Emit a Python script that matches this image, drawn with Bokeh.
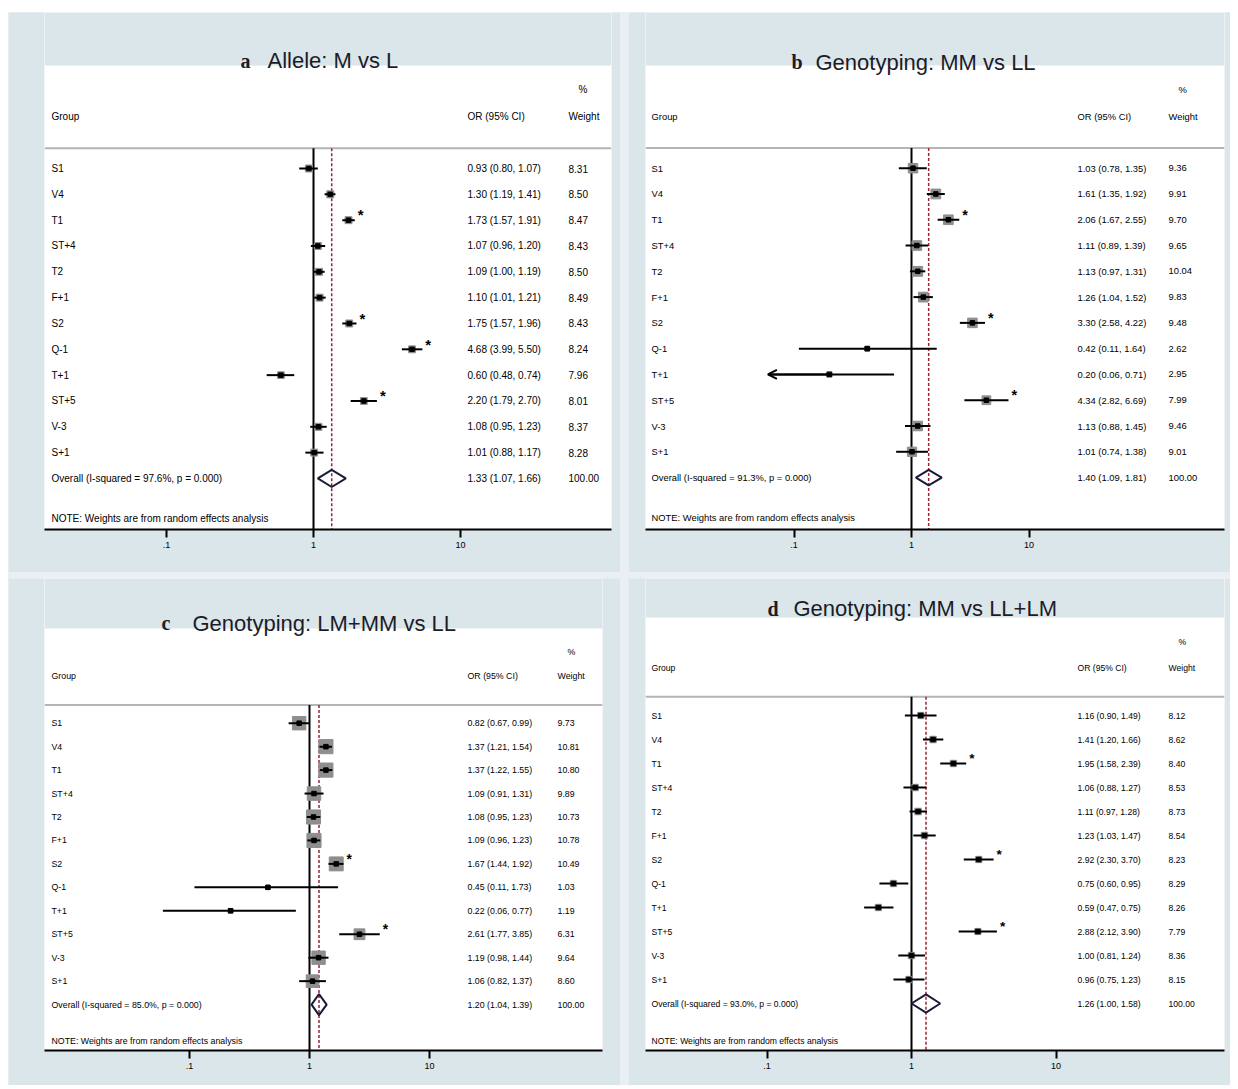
import math
from bokeh.plotting import figure
from bokeh.models import (Range1d, FixedTicker, ColumnDataSource, Arrow,
                          OpenHead, Span, BoxAnnotation)
from bokeh.layouts import column, row
from bokeh.embed import file_html
from bokeh.resources import INLINE
from bokeh.core.properties import value

# ---------------- data ----------------
groups = ["S1", "V4", "T1", "ST+4", "T2", "F+1", "S2", "Q-1", "T+1", "ST+5", "V-3", "S+1"]

a_or = [0.93, 1.30, 1.73, 1.07, 1.09, 1.10, 1.75, 4.68, 0.60, 2.20, 1.08, 1.01]
a_lo = [0.80, 1.19, 1.57, 0.96, 1.00, 1.01, 1.57, 3.99, 0.48, 1.79, 0.95, 0.88]
a_hi = [1.07, 1.41, 1.91, 1.20, 1.19, 1.21, 1.96, 5.50, 0.74, 2.70, 1.23, 1.17]
a_wt = [8.31, 8.50, 8.47, 8.43, 8.50, 8.49, 8.43, 8.24, 7.96, 8.01, 8.37, 8.28]
a_overall = [1.33, 1.07, 1.66]
a_i2 = 97.6
a_star = ["T1", "S2", "Q-1", "ST+5"]
a_arrow = []

b_or = [1.03, 1.61, 2.06, 1.11, 1.13, 1.26, 3.30, 0.42, 0.20, 4.34, 1.13, 1.01]
b_lo = [0.78, 1.35, 1.67, 0.89, 0.97, 1.04, 2.58, 0.11, 0.06, 2.82, 0.88, 0.74]
b_hi = [1.35, 1.92, 2.55, 1.39, 1.31, 1.52, 4.22, 1.64, 0.71, 6.69, 1.45, 1.38]
b_wt = [9.36, 9.91, 9.70, 9.65, 10.04, 9.83, 9.48, 2.62, 2.95, 7.99, 9.46, 9.01]
b_overall = [1.40, 1.09, 1.81]
b_i2 = 91.3
b_star = ["T1", "S2", "ST+5"]
b_arrow = ["T+1"]

c_or = [0.82, 1.37, 1.37, 1.09, 1.08, 1.09, 1.67, 0.45, 0.22, 2.61, 1.19, 1.06]
c_lo = [0.67, 1.21, 1.22, 0.91, 0.95, 0.96, 1.44, 0.11, 0.06, 1.77, 0.98, 0.82]
c_hi = [0.99, 1.54, 1.55, 1.31, 1.23, 1.23, 1.92, 1.73, 0.77, 3.85, 1.44, 1.37]
c_wt = [9.73, 10.81, 10.80, 9.89, 10.73, 10.78, 10.49, 1.03, 1.19, 6.31, 9.64, 8.60]
c_overall = [1.20, 1.04, 1.39]
c_i2 = 85.0
c_star = ["S2", "ST+5"]
c_arrow = []

d_or = [1.16, 1.41, 1.95, 1.06, 1.11, 1.23, 2.92, 0.75, 0.59, 2.88, 1.00, 0.96]
d_lo = [0.90, 1.20, 1.58, 0.88, 0.97, 1.03, 2.30, 0.60, 0.47, 2.12, 0.81, 0.75]
d_hi = [1.49, 1.66, 2.39, 1.27, 1.28, 1.47, 3.70, 0.95, 0.75, 3.90, 1.24, 1.23]
d_wt = [8.12, 8.62, 8.40, 8.53, 8.73, 8.54, 8.23, 8.29, 8.26, 7.79, 8.36, 8.15]
d_overall = [1.26, 1.00, 1.58]
d_i2 = 93.0
d_star = ["T1", "S2", "ST+5"]
d_arrow = []

letters = ["a", "b", "c", "d"]
titles = ["Allele: M vs L", "Genotyping: MM vs LL",
          "Genotyping: LM+MM vs LL", "Genotyping: MM vs LL+LM"]

tick_values = [0.1, 1, 10]
tick_labels = [".1", "1", "10"]

header_group = "Group"
header_or = "OR (95% CI)"
header_pct = "%"
header_wt = "Weight"
note_text = "NOTE: Weights are from random effects analysis"

# ---------------- layout / style ----------------
FONT = "Liberation Sans"
BG = "#dbe6eb"

specs = [
    dict(fx=8, fy=12, w=612, h=560, L=44, R=611, T=65, B=529, x1=313, ppd=147.0,
         s1=168, pitch=25.83, gx=51, ox=467, wx=568, fs=10.0, lx=240, tx=267, ty=60,
         k=2.4, dh=0.33),
    dict(fx=628, fy=12, w=602, h=560, L=645, R=1224, T=65, B=530, x1=911, ppd=117.5,
         s1=168, pitch=25.83, gx=651, ox=1077, wx=1168, fs=9.4, lx=791, tx=815, ty=62,
         k=3.1, dh=0.30),
    dict(fx=8, fy=578, w=612, h=507, L=44, R=602, T=628, B=1051, x1=309, ppd=120.0,
         s1=723, pitch=23.5, gx=51, ox=467, wx=557, fs=8.8, lx=161, tx=192, ty=623,
         k=4.3, dh=0.45),
    dict(fx=628, fy=578, w=602, h=507, L=645, R=1224, T=617, B=1050, x1=911, ppd=144.5,
         s1=715, pitch=24.0, gx=651, ox=1077, wx=1168, fs=8.6, lx=767, tx=793, ty=608,
         k=2.2, dh=0.38),
]

datasets = [
    (a_or, a_lo, a_hi, a_wt, a_overall, a_i2, a_star, a_arrow),
    (b_or, b_lo, b_hi, b_wt, b_overall, b_i2, b_star, b_arrow),
    (c_or, c_lo, c_hi, c_wt, c_overall, c_i2, c_star, c_arrow),
    (d_or, d_lo, d_hi, d_wt, d_overall, d_i2, d_star, d_arrow),
]


def make_panel(spec, data, letter, title):
    ors, los, his, wts, overall, i2, stars, arrows = data
    X = lambda px: 10 ** ((px - spec["x1"]) / spec["ppd"])
    Y = lambda px: 1 + (px - spec["s1"]) / spec["pitch"]

    # frame reaches the top of the figure; the title band is painted inside it
    p = figure(width=spec["w"], height=spec["h"], x_axis_type="log",
               x_range=Range1d(X(spec["L"]), X(spec["R"])),
               y_range=Range1d(Y(spec["B"]), Y(spec["fy"])),
               min_border_left=spec["L"] - spec["fx"],
               min_border_right=spec["fx"] + spec["w"] - spec["R"],
               min_border_top=0,
               min_border_bottom=spec["fy"] + spec["h"] - spec["B"],
               y_axis_location=None, toolbar_location=None, output_backend="svg",
               background_fill_color="white", border_fill_color=BG,
               outline_line_color=None)
    p.xgrid.visible = False
    p.ygrid.visible = False

    p.add_layout(BoxAnnotation(left=X(spec["L"]), right=X(spec["R"]),
                               top=Y(spec["fy"]), bottom=Y(spec["T"]),
                               fill_color=BG, fill_alpha=1.0, line_color=None,
                               level="underlay"))

    ax = p.xaxis[0]
    ax.ticker = FixedTicker(ticks=tick_values)
    ax.major_label_overrides = dict(zip(tick_values, tick_labels))
    ax.axis_line_width = 2
    ax.axis_line_color = "black"
    ax.major_tick_line_width = 2
    ax.major_tick_line_color = "black"
    ax.major_tick_out = 8
    ax.major_tick_in = 0
    ax.minor_tick_line_color = None
    ax.major_label_standoff = 4
    ax.major_label_text_font = FONT
    ax.major_label_text_font_size = "9px"
    ax.major_label_text_color = "black"

    n = len(groups)
    rows = list(range(1, n + 1))
    y_overall = n + 1
    y_head = -1.0
    y_pct = -2.05
    y_line = 0.22
    y_note = n + 2.55
    y_bottom = Y(spec["B"])

    # header separator
    p.segment(x0=[X(spec["L"])], x1=[X(spec["R"])], y0=[y_line], y1=[y_line],
              line_color="#b5b5b5", line_width=2)

    # null line and overall line
    p.segment(x0=[1], x1=[1], y0=[y_line], y1=[y_bottom], line_color="black",
              line_width=2)
    p.segment(x0=[overall[0]], x1=[overall[0]], y0=[y_line], y1=[y_bottom],
              line_color="#9b2335", line_width=1.5, line_dash="3 2")

    src = ColumnDataSource(dict(
        g=groups, y=rows, orv=ors, lo=los, hi=his, wt=wts,
        box=[spec["k"] * math.sqrt(w) for w in wts],
        ort=[f"{o:.2f} ({l:.2f}, {h:.2f})" for o, l, h in zip(ors, los, his)],
        wtt=[f"{w:.2f}" for w in wts],
    ))

    p.scatter(x="orv", y="y", size="box", marker="square", source=src,
              fill_color="#8e8e8e", line_color="#8e8e8e")
    p.segment(x0="lo", x1="hi", y0="y", y1="y", source=src, line_color="black",
              line_width=2)
    p.scatter(x="orv", y="y", size=4.5, marker="square", source=src,
              fill_color="black", line_color="black")

    for gname in arrows:
        i = groups.index(gname)
        p.add_layout(Arrow(end=OpenHead(size=9, line_width=2, line_color="black"),
                           x_start=ors[i], y_start=rows[i], x_end=los[i], y_end=rows[i],
                           line_width=2, line_color="black"))

    # overall diamond
    h = spec["dh"]
    p.patch(x=[overall[1], overall[0], overall[2], overall[0]],
            y=[y_overall, y_overall - h, y_overall, y_overall + h],
            fill_color=None, line_color="#1a1a3a", line_width=2)

    # asterisks
    sx = [his[groups.index(s)] * 10 ** (3 / spec["ppd"]) for s in stars]
    sy = [rows[groups.index(s)] - 0.2 for s in stars]
    p.text(x=sx, y=sy, text=["*"] * len(stars), text_font=value(FONT),
           text_font_size=f"{spec['fs'] + 5}px", text_font_style="bold",
           text_baseline="middle", text_align="left", text_color="black")

    fs = f"{spec['fs']}px"
    common = dict(text_font=value(FONT), text_font_size=fs, text_baseline="middle",
                  text_align="left", text_color="black")
    gx, ox, wx = X(spec["gx"]), X(spec["ox"]), X(spec["wx"])

    p.text(x=gx, y="y", text="g", source=src, **common)
    p.text(x=ox, y="y", text="ort", source=src, **common)
    p.text(x=wx, y="y", text="wtt", source=src, **common)

    p.text(x=[gx, ox, wx], y=[y_head] * 3, text=[header_group, header_or, header_wt],
           **common)
    p.text(x=[X(spec["wx"] + 10)], y=[y_pct], text=[header_pct], **common)

    p.text(x=[gx, ox, wx], y=[y_overall] * 3,
           text=[f"Overall  (I-squared = {i2:.1f}%, p = 0.000)",
                 f"{overall[0]:.2f} ({overall[1]:.2f}, {overall[2]:.2f})", "100.00"],
           **common)
    p.text(x=[gx], y=[y_note], text=[note_text], **common)

    # title (letter + text) in the band above the white plot region
    p.text(x=[X(spec["lx"])], y=[Y(spec["ty"])], text=[letter],
           text_font=value("Liberation Serif"), text_font_style="bold",
           text_font_size="20px", text_color="#1c1c28",
           text_baseline="alphabetic", text_align="left")
    p.text(x=[X(spec["tx"])], y=[Y(spec["ty"])], text=[title],
           text_font=value(FONT), text_font_size="22px", text_color="#1c1c28",
           text_baseline="alphabetic", text_align="left")
    return p


figs = [make_panel(s, d, l, t) for s, d, l, t in zip(specs, datasets, letters, titles)]

layout = column(row(figs[0], figs[1], spacing=8),
                row(figs[2], figs[3], spacing=8),
                spacing=6, margin=(12, 0, 0, 8),
                styles={"background-color": "#e9eff2"})

open("out.html", "w").write(file_html(layout, INLINE))
